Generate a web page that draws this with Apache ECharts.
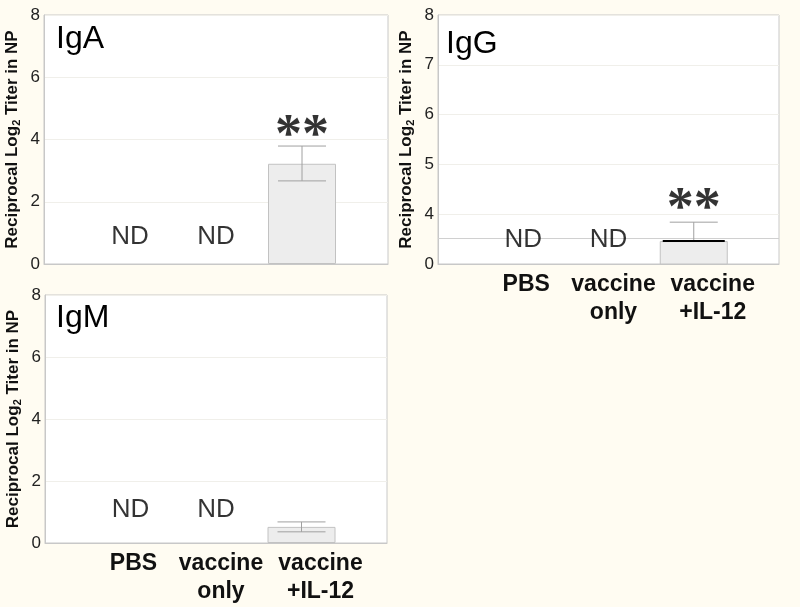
<!DOCTYPE html>
<html>
<head>
<meta charset="utf-8">
<script src="https://cdn.jsdelivr.net/npm/echarts@6/dist/echarts.min.js"></script>
<style>
  html, body { margin: 0; padding: 0; background: #fffcf2; }
  #chart { width: 800px; height: 607px; }
</style>
</head>
<body>
<div id="chart"></div>
<script>
// x positions 1..3 are the groups, 0 and 4 are padding slots
const categories = ['', 'PBS', 'vaccine\nonly', 'vaccine\n+IL-12', '']

const igaMeans = ['-', '-', '-', 3.22, '-']
const igaErrors = [[3, 2.67, 3.79]]
const igaNd = [[1, 0.87], [2, 0.87]]
const igaStars = [[3, 4.47]]

// IgG is drawn on a broken axis: axis value 3 is labelled 0
const iggMeans = ['-', '-', '-', 3.46, '-']
const iggErrors = [[3, 3.46, 3.84]]
const iggNd = [[1, 3.48], [2, 3.48]]
const iggStars = [[3, 4.32]]
const iggBreak = 3.52

const igmMeans = ['-', '-', '-', 0.52, '-']
const igmErrors = [[3, 0.36, 0.68]]
const igmNd = [[1, 1.06], [2, 1.06]]

const chart = echarts.init(document.getElementById('chart'))

const yName = '{a|Reciprocal Log}{s|2}{a| Titer in NP}'
const yNameStyle = {
  fontSize: 17,
  rich: {
    a: { fontSize: 17, fontWeight: 'bold', color: '#111', fontFamily: 'Liberation Sans' },
    s: { fontSize: 11, fontWeight: 'bold', color: '#111', fontFamily: 'Liberation Sans', padding: [9, 0, 0, 0] }
  }
}

// the source figure sets the labels a little right of their ticks
const labelShift = [0, 6, 10, 38, 0]
const axisData = categories.map((c, i) => ({
  value: c,
  textStyle: { padding: [0, 0, 0, labelShift[i]] }
}))

const makeX = (idx, showLabels) => ({
  type: 'category',
  gridIndex: idx,
  data: axisData,
  boundaryGap: false,
  axisLine: { lineStyle: { color: '#c8c8c8' } },
  axisTick: { show: false },
  axisLabel: {
    show: showLabels,
    interval: 0,
    margin: 7,
    fontSize: 23,
    lineHeight: 28,
    fontWeight: 'bold',
    color: '#111',
    fontFamily: 'Liberation Sans'
  }
})

const makeY = (idx, min, max, interval, formatter) => ({
  type: 'value',
  gridIndex: idx,
  min, max, interval,
  name: yName,
  nameLocation: 'middle',
  nameGap: 22,
  nameTextStyle: yNameStyle,
  axisLine: { show: true, lineStyle: { color: '#c8c8c8' } },
  axisTick: { show: false },
  splitLine: { lineStyle: { color: '#f0efea' } },
  axisLabel: {
    margin: 4,
    fontSize: 17,
    color: '#222',
    fontFamily: 'Liberation Sans',
    formatter
  }
})

const barSeries = (idx, data, extra) => Object.assign({
  type: 'bar',
  xAxisIndex: idx,
  yAxisIndex: idx,
  data,
  barWidth: 68,
  clip: true,
  itemStyle: { color: '#ededed', borderColor: '#c2c2c2', borderWidth: 1 }
}, extra || {})

const errorSeries = (idx, data, lowCap) => ({
  type: 'custom',
  xAxisIndex: idx,
  yAxisIndex: idx,
  data,
  z: 5,
  renderItem: (params, api) => {
    const x = api.value(0)
    const lo = api.coord([x, api.value(1)])
    const hi = api.coord([x, api.value(2)])
    const line = { stroke: '#a0a0a0', lineWidth: 1 }
    return {
      type: 'group',
      children: [
        { type: 'line', shape: { x1: hi[0], y1: hi[1], x2: lo[0], y2: lo[1] }, style: line },
        { type: 'line', shape: { x1: hi[0] - 24, y1: hi[1], x2: hi[0] + 24, y2: hi[1] }, style: line },
        { type: 'line', shape: { x1: lo[0] - lowCap.half, y1: lo[1], x2: lo[0] + lowCap.half, y2: lo[1] },
          style: { stroke: lowCap.color, lineWidth: lowCap.width } }
      ]
    }
  }
})

const textSeries = (idx, data, text, style) => ({
  type: 'scatter',
  xAxisIndex: idx,
  yAxisIndex: idx,
  data,
  symbolSize: 1,
  z: 6,
  itemStyle: { color: 'rgba(0,0,0,0)' },
  label: Object.assign({
    show: true,
    position: 'inside',
    formatter: text,
    color: '#000'
  }, style)
})

const ndStyle = { fontSize: 26, fontFamily: 'Liberation Sans' }
const starStyle = { fontSize: 54, fontWeight: 'bold', fontFamily: 'Liberation Serif', offset: [0, 12] }
const greyCap = { half: 24, color: '#a0a0a0', width: 1 }
const titleStyle = { fontSize: 32, fontWeight: 'normal', color: '#000', fontFamily: 'Liberation Sans' }

const option = {
  backgroundColor: '#fffcf2',
  animation: false,
  title: [
    { text: 'IgA', left: 56, top: 23, padding: 0, textStyle: titleStyle },
    { text: 'IgG', left: 446, top: 28, padding: 0, textStyle: titleStyle },
    { text: 'IgM', left: 56, top: 302, padding: 0, textStyle: titleStyle }
  ],
  grid: [
    { left: 44, right: 412, top: 15, bottom: 343, show: true, backgroundColor: '#fff', borderColor: '#c8c8c8' },
    { left: 438, right: 21, top: 15, bottom: 343, show: true, backgroundColor: '#fff', borderColor: '#c8c8c8' },
    { left: 45, right: 413, top: 295, bottom: 64, show: true, backgroundColor: '#fff', borderColor: '#c8c8c8' }
  ],
  xAxis: [makeX(0, false), makeX(1, true), makeX(2, true)],
  yAxis: [
    makeY(0, 0, 8, 2),
    makeY(1, 3, 8, 1, v => (v === 3 ? '0' : String(v))),
    makeY(2, 0, 8, 2)
  ],
  series: [
    barSeries(0, igaMeans),
    errorSeries(0, igaErrors, greyCap),
    textSeries(0, igaNd, 'ND', ndStyle),
    textSeries(0, igaStars, '**', starStyle),

    barSeries(1, iggMeans, {
      markLine: {
        silent: true,
        symbol: 'none',
        label: { show: false },
        lineStyle: { color: '#d0d0d0', type: 'solid', width: 1 },
        data: [{ yAxis: iggBreak }]
      }
    }),
    errorSeries(1, iggErrors, { half: 31, color: '#000', width: 2 }),
    textSeries(1, iggNd, 'ND', ndStyle),
    textSeries(1, iggStars, '**', starStyle),

    barSeries(2, igmMeans),
    errorSeries(2, igmErrors, greyCap),
    textSeries(2, igmNd, 'ND', ndStyle)
  ]
}

chart.setOption(option)
</script>
</body>
</html>
